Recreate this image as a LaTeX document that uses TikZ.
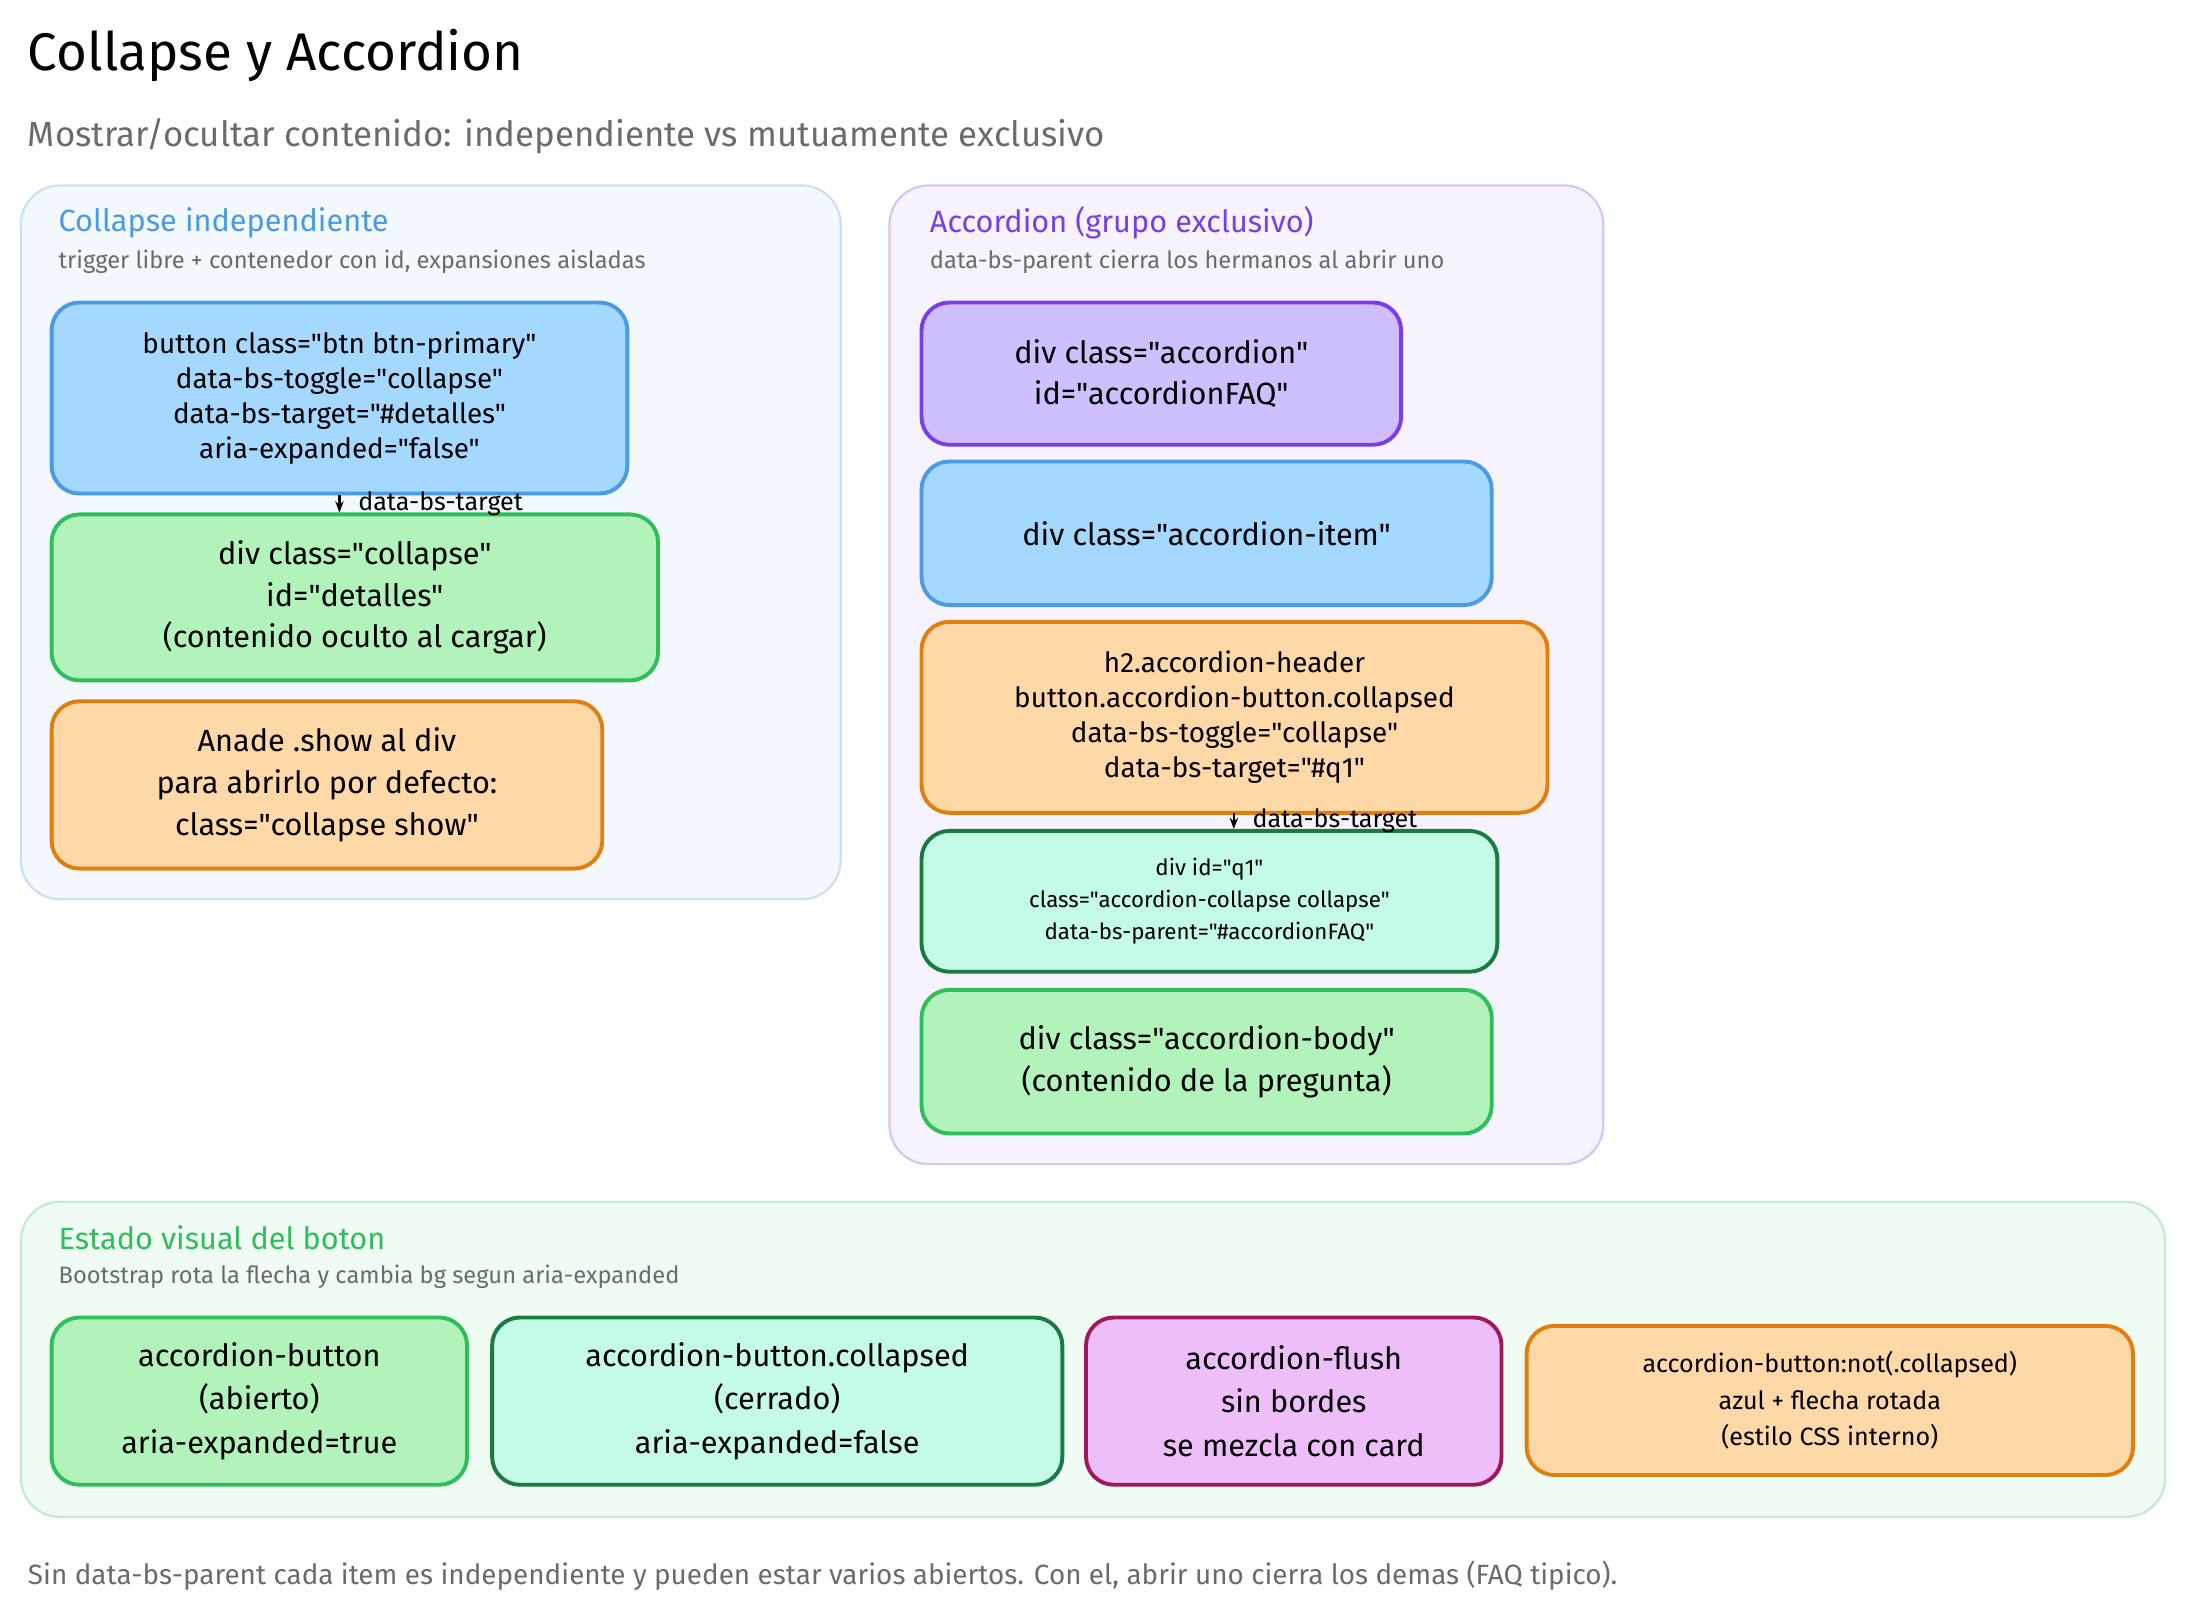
\documentclass[tikz,border=0pt]{standalone}
\usepackage{fontspec}
\setmainfont{Fira Sans}[Ligatures=TeXOff]
\usetikzlibrary{arrows.meta,positioning}
\definecolor{cblue}{HTML}{A5D8FF}\definecolor{sblue}{HTML}{4A9AE5}
\definecolor{cgreen}{HTML}{B2F2BB}\definecolor{sgreen}{HTML}{2FBF5A}
\definecolor{corange}{HTML}{FFD8A8}\definecolor{sorange}{HTML}{E07F10}
\definecolor{cviolet}{HTML}{D0BFFF}\definecolor{sviolet}{HTML}{7A3EE8}
\definecolor{cteal}{HTML}{C3FAE8}\definecolor{steal}{HTML}{1A7A40}
\definecolor{cpink}{HTML}{EEBEFA}\definecolor{spink}{HTML}{A0185A}
\definecolor{txtgray}{HTML}{6B6B6B}
\tikzset{
  panel/.style={rounded corners=14pt, line width=0.8pt},
  box/.style={rounded corners=10pt, line width=1.4pt, align=center, font=\fontsize{10}{12.5}\selectfont, inner sep=0pt},
  ptitle/.style={anchor=west, font=\fontsize{11}{13}\selectfont},
  psub/.style={anchor=west, text=txtgray, font=\fontsize{8.5}{10}\selectfont},
  tgt/.style={-{Stealth[length=4pt]}, line width=0.8pt},
  tlabel/.style={anchor=west, font=\fontsize{9}{10}\selectfont}
}
\newcommand{\bx}[6]{% name, x1,y1,x2,y2, style
  \node[box,#6, minimum width={(#4-#2)*0.5pt}, minimum height={(#5-#3)*0.5pt}] (#1) at ({(#2+#4)/2},{(#3+#5)/2})}
\begin{document}
\begin{tikzpicture}[x=0.5pt,y=-0.5pt]
  \useasboundingbox (0,0) rectangle (1568,1158);
  % titles
  \node[anchor=west, font=\fontsize{19}{22}\selectfont] (title) at (13,40) {Collapse y Accordion};
  \node[anchor=west, text=txtgray, font=\fontsize{12.5}{14}\selectfont] (subtitle) at (13,98) {Mostrar/ocultar contenido: independiente vs mutuamente exclusivo};

  % left panel
  \draw[panel, fill=sblue!7, draw=sblue!30] (15,133) rectangle (603,645);
  \node[ptitle, text=sblue] (lt) at (35,160) {Collapse independiente};
  \node[psub] (ls) at (35,188) {trigger libre + contenedor con id, expansiones aisladas};
  \bx{btn}{37}{217}{450}{354}{fill=cblue, draw=sblue}{button class="btn btn-primary"\\data-bs-toggle="collapse"\\data-bs-target="\#detalles"\\aria-expanded="false"};
  \bx{det}{37}{369}{472}{488}{fill=cgreen, draw=sgreen, font=\fontsize{11}{15}\selectfont}{div class="collapse"\\id="detalles"\\(contenido oculto al cargar)};
  \bx{show}{37}{503}{432}{623}{fill=corange, draw=sorange, font=\fontsize{11}{15}\selectfont}{Anade .show al div\\para abrirlo por defecto:\\class="collapse show"};
  \draw[tgt] (btn.south) -- (btn.south |- det.north) node[tlabel, midway, xshift=3pt] {data-bs-target};

  % right panel
  \draw[panel, fill=sviolet!6, draw=sviolet!30] (638,133) rectangle (1150,835);
  \node[ptitle, text=sviolet] (rt) at (660,160) {Accordion (grupo exclusivo)};
  \node[psub] (rs) at (660,188) {data-bs-parent cierra los hermanos al abrir uno};
  \bx{acc}{661}{217}{1005}{319}{fill=cviolet, draw=sviolet, font=\fontsize{11}{15}\selectfont}{div class="accordion"\\id="accordionFAQ"};
  \bx{item}{661}{331}{1070}{434}{fill=cblue, draw=sblue, font=\fontsize{11}{15}\selectfont}{div class="accordion-item"};
  \bx{head}{661}{446}{1110}{583}{fill=corange, draw=sorange}{h2.accordion-header\\button.accordion-button.collapsed\\data-bs-toggle="collapse"\\data-bs-target="\#q1"};
  \bx{q1}{661}{596}{1074}{697}{fill=cteal, draw=steal, font=\fontsize{8}{11.5}\selectfont}{div id="q1"\\class="accordion-collapse collapse"\\data-bs-parent="\#accordionFAQ"};
  \bx{body}{661}{710}{1070}{813}{fill=cgreen, draw=sgreen, font=\fontsize{11}{15}\selectfont}{div class="accordion-body"\\(contenido de la pregunta)};
  \coordinate (hx) at (885,583);
  \draw[tgt] (hx) -- (hx |- q1.north) node[tlabel, midway, xshift=3pt] {data-bs-target};

  % bottom panel
  \draw[panel, fill=sgreen!7, draw=sgreen!30] (15,862) rectangle (1553,1088);
  \node[ptitle, text=sgreen] (bt) at (35,888) {Estado visual del boton};
  \node[psub] (bs) at (35,916) {Bootstrap rota la flecha y cambia bg segun aria-expanded};
  \bx{open}{37}{945}{335}{1065}{fill=cgreen, draw=sgreen, font=\fontsize{11}{15.5}\selectfont}{accordion-button\\(abierto)\\aria-expanded=true};
  \bx{closed}{353}{945}{762}{1065}{fill=cteal, draw=steal, font=\fontsize{11}{15.5}\selectfont}{accordion-button.collapsed\\(cerrado)\\aria-expanded=false};
  \bx{flush}{779}{945}{1077}{1065}{fill=cpink, draw=spink, font=\fontsize{11}{15.5}\selectfont}{accordion-flush\\sin bordes\\se mezcla con card};
  \bx{notc}{1095}{951}{1530}{1058}{fill=corange, draw=sorange, font=\fontsize{9}{13}\selectfont}{accordion-button:not(.collapsed)\\azul + flecha rotada\\(estilo CSS interno)};

  % footer
  \node[psub, font=\fontsize{10}{12}\selectfont] (foot) at (13,1130) {Sin data-bs-parent cada item es independiente y pueden estar varios abiertos. Con el, abrir uno cierra los demas (FAQ tipico).};
\end{tikzpicture}
\end{document}
